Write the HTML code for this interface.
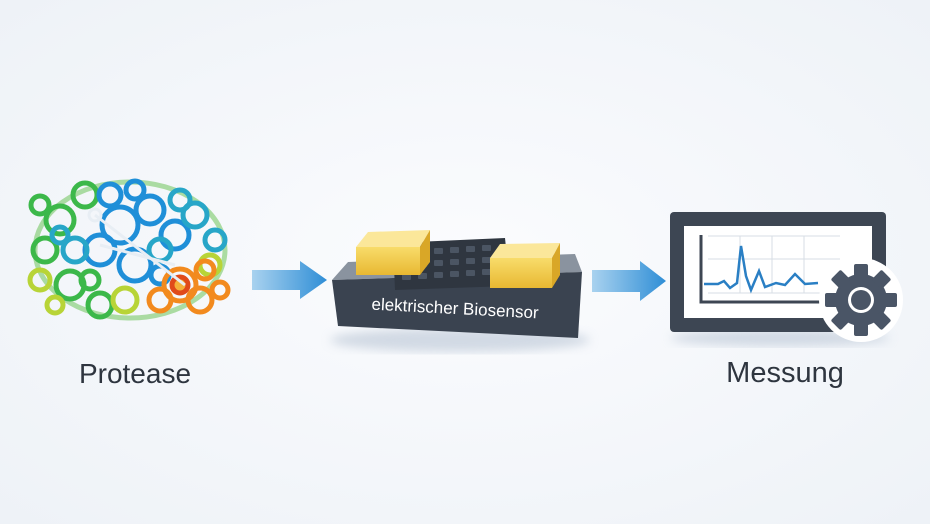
<!DOCTYPE html>
<html><head><meta charset="utf-8"><style>
html,body{margin:0;padding:0;width:930px;height:524px;overflow:hidden;background:#f6f8fb}
</style></head><body>
<svg width="930" height="524" viewBox="0 0 930 524" xmlns="http://www.w3.org/2000/svg">
<defs>
<radialGradient id="bg" cx="0.5" cy="0.5" r="0.7"><stop offset="0" stop-color="#fbfcfe"/><stop offset="1" stop-color="#eef2f7"/></radialGradient>
<linearGradient id="ar" x1="0" x2="1"><stop offset="0" stop-color="#a9d2ef"/><stop offset="1" stop-color="#2f8ed6"/></linearGradient>
<linearGradient id="gold" x1="0" x2="0" y1="0" y2="1"><stop offset="0" stop-color="#f8dc6a"/><stop offset="1" stop-color="#e8b832"/></linearGradient>
<filter id="sh"><feGaussianBlur stdDeviation="5"/></filter>
</defs>
<rect width="930" height="524" fill="url(#bg)"/>
<!-- protein -->
<g fill="none" stroke-width="5">
<ellipse cx="130" cy="250" rx="95" ry="68" stroke="#5fbf4a" opacity="0.5"/>
<g stroke="#3cb84a"><circle cx="60" cy="220" r="14"/><circle cx="45" cy="250" r="12"/><circle cx="70" cy="285" r="14"/><circle cx="100" cy="305" r="12"/><circle cx="85" cy="195" r="12"/><circle cx="40" cy="205" r="9"/><circle cx="90" cy="280" r="9"/></g>
<g stroke="#1f8fd8"><circle cx="120" cy="225" r="18"/><circle cx="150" cy="210" r="14"/><circle cx="100" cy="250" r="15"/><circle cx="135" cy="265" r="16"/><circle cx="175" cy="235" r="14"/><circle cx="110" cy="195" r="11"/><circle cx="135" cy="190" r="9"/><circle cx="160" cy="275" r="9"/></g>
<g stroke="#27a6c8"><circle cx="75" cy="250" r="12"/><circle cx="160" cy="250" r="11"/><circle cx="195" cy="215" r="12"/><circle cx="215" cy="240" r="10"/><circle cx="180" cy="200" r="10"/><circle cx="60" cy="235" r="8"/></g>
<g stroke="#b8d437"><circle cx="125" cy="300" r="12"/><circle cx="40" cy="280" r="10"/><circle cx="210" cy="265" r="10"/><circle cx="55" cy="305" r="8"/></g>
<g stroke="#f28a1e"><circle cx="180" cy="285" r="16"/><circle cx="200" cy="300" r="12"/><circle cx="160" cy="300" r="11"/><circle cx="205" cy="270" r="9"/><circle cx="220" cy="290" r="8"/></g>
<circle cx="180" cy="285" r="8" fill="#f5b03a" stroke="#e04a1a"/>
</g>
<g stroke="#e8eef4" stroke-width="3" fill="none"><path d="M95 215 L185 285"/><path d="M100 245 L175 265"/><circle cx="95" cy="215" r="6"/></g>
<!-- arrows -->
<path d="M252 270 H300 V261 L327 280 L300 299 V290 H252 Z" fill="url(#ar)"/>
<path d="M592 270 H640 V261 L666 281 L640 301 V292 H592 Z" fill="url(#ar)"/>
<!-- sensor -->
<ellipse cx="460" cy="340" rx="130" ry="12" fill="#b8c4d4" opacity="0.6" filter="url(#sh)"/>
<polygon points="332,280 348,262 575,254 582,272" fill="#8a939f"/>
<polygon points="332,280 582,272 578,338 338,326" fill="#3a4350"/>
<polygon points="393,243 505,238 510,286 395,290" fill="#2f3640"/>
<g fill="#4b5563">
<rect x="402" y="250" width="9" height="6" rx="1"/><rect x="418" y="249" width="9" height="6" rx="1"/><rect x="434" y="248" width="9" height="6" rx="1"/><rect x="450" y="247" width="9" height="6" rx="1"/><rect x="466" y="246" width="9" height="6" rx="1"/><rect x="482" y="245" width="9" height="6" rx="1"/>
<rect x="402" y="262" width="9" height="6" rx="1"/><rect x="418" y="261" width="9" height="6" rx="1"/><rect x="434" y="260" width="9" height="6" rx="1"/><rect x="450" y="259" width="9" height="6" rx="1"/><rect x="466" y="258" width="9" height="6" rx="1"/><rect x="482" y="257" width="9" height="6" rx="1"/>
<rect x="402" y="274" width="9" height="6" rx="1"/><rect x="418" y="273" width="9" height="6" rx="1"/><rect x="434" y="272" width="9" height="6" rx="1"/><rect x="450" y="271" width="9" height="6" rx="1"/><rect x="466" y="270" width="9" height="6" rx="1"/><rect x="482" y="269" width="9" height="6" rx="1"/>
</g>
<polygon points="356,247 368,232 430,230 420,247" fill="#fbe79a"/>
<rect x="356" y="247" width="64" height="28" fill="url(#gold)"/>
<polygon points="420,247 430,230 430,262 420,275" fill="#d9a727"/>
<polygon points="490,258 500,244 560,243 552,258" fill="#fbe79a"/>
<rect x="490" y="258" width="62" height="30" fill="url(#gold)"/>
<polygon points="552,258 560,243 560,275 552,288" fill="#d9a727"/>
<text x="455" y="314" transform="rotate(3 455 310)" text-anchor="middle" font-family="Liberation Sans, sans-serif" font-size="17" fill="#fff">elektrischer Biosensor</text>
<!-- monitor -->
<ellipse cx="780" cy="338" rx="110" ry="8" fill="#b8c4d4" opacity="0.6" filter="url(#sh)"/>
<rect x="670" y="212" width="216" height="120" rx="4" fill="#3d4653"/>
<rect x="684" y="226" width="188" height="92" fill="#fff"/>
<g stroke="#d7dde4" stroke-width="1"><line x1="708" y1="236" x2="840" y2="236"/><line x1="708" y1="259" x2="840" y2="259"/><line x1="740" y1="236" x2="740" y2="293"/><line x1="772" y1="236" x2="772" y2="293"/><line x1="804" y1="236" x2="804" y2="293"/><line x1="708" y1="293" x2="840" y2="293"/></g>
<path d="M701 235 V302 H830" fill="none" stroke="#3d4653" stroke-width="3"/>
<path d="M704 284 H718 L724 281 L730 288 L737 283 L741 246 L746 276 L751 290 L759 271 L765 287 L776 283 L785 285 L795 274 L805 284 L818 283" fill="none" stroke="#2a7fc4" stroke-width="2.5"/>
<circle cx="861" cy="300" r="42" fill="#fff"/>
<g transform="translate(861,300)" fill="#4a5566">
<circle r="26"/>
<g><rect x="-7" y="-36" width="14" height="14" rx="2"/><rect x="-7" y="-36" width="14" height="14" rx="2" transform="rotate(45)"/><rect x="-7" y="-36" width="14" height="14" rx="2" transform="rotate(90)"/><rect x="-7" y="-36" width="14" height="14" rx="2" transform="rotate(135)"/><rect x="-7" y="-36" width="14" height="14" rx="2" transform="rotate(180)"/><rect x="-7" y="-36" width="14" height="14" rx="2" transform="rotate(225)"/><rect x="-7" y="-36" width="14" height="14" rx="2" transform="rotate(270)"/><rect x="-7" y="-36" width="14" height="14" rx="2" transform="rotate(315)"/></g>
<circle r="13" fill="#fff"/><circle r="10" fill="#4a5566"/>
</g>
<!-- labels -->
<text x="135" y="383" text-anchor="middle" font-family="Liberation Sans, sans-serif" font-size="28" fill="#2e353f">Protease</text>
<text x="785" y="382" text-anchor="middle" font-family="Liberation Sans, sans-serif" font-size="29" fill="#2e353f">Messung</text>
</svg>
</body></html>
